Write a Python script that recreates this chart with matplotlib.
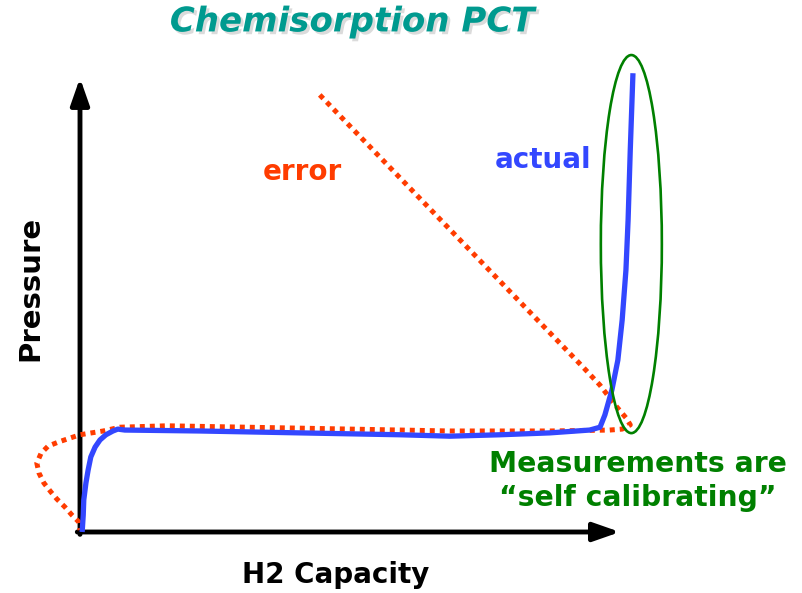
import matplotlib.pyplot as plt
import matplotlib.patheffects as pe
from matplotlib.patches import Ellipse

# schematic PCT curves, capacity (x) and pressure (y) in arbitrary units 0-100
actual_x = [0.4, 0.6, 0.7, 1.1, 1.5, 2.0, 2.8, 3.7, 4.8, 6.1, 7.0, 8.3, 22.2, 40.7,
            59.3, 68.5, 77.8, 87.0, 94.4, 96.3, 97.2, 98.5, 99.6, 100.4, 101.1,
            101.5, 101.9, 102.4]
actual_y = [0.0, 3.6, 6.8, 10.4, 13.1, 15.9, 18.0, 19.5, 20.6, 21.4, 21.8, 21.6,
            21.4, 21.0, 20.6, 20.3, 20.6, 21.0, 21.6, 22.2, 24.8, 30.1, 36.4,
            44.9, 55.5, 66.1, 80.9, 97.2]

error_x = [44.4, 93.1, 96.3, 99.1, 101.1, 101.9, 100.4, 98.1, 87.0, 68.5, 40.7, 16.1,
           7.4, 4.3, 0.0, -1.85, -3.9, -5.9, -7.2, -8.0, -7.6, -6.7, -5.4, -4.3,
           -2.8, -1.5, -0.2, 0.0]
error_y = [92.6, 35.0, 31.1, 26.9, 24.2, 22.7, 21.8, 21.6, 21.4, 21.4, 22.0, 22.5,
           22.2, 21.4, 20.6, 19.9, 19.1, 18.2, 16.7, 14.6, 12.5, 10.4, 8.5, 7.0,
           5.3, 3.6, 2.1, 0.4]

# highlighted region (steep rise)
ring_center = (102.1, 61.0)
ring_size = (11.3, 80.1)

fig = plt.figure(figsize=(8.02, 5.93), dpi=100)
ax = fig.add_axes([80 / 802, 61 / 593, 540 / 802, 472 / 593])
ax.set_xlim(0, 100)
ax.set_ylim(0, 100)
ax.axis("off")

# axes with arrowheads
arrow = dict(arrowstyle="-|>,head_length=0.8,head_width=0.28", lw=3.5,
             color="black", mutation_scale=20, shrinkA=0, shrinkB=0)
ax.annotate("", xy=(0, 96.2), xytext=(0, -0.5), arrowprops=arrow, annotation_clip=False)
ax.annotate("", xy=(100, 0), xytext=(-0.5, 0), arrowprops=arrow, annotation_clip=False)

ax.plot(error_x, error_y, color="#ff3c00", lw=3.6, linestyle=(0, (1, 1)),
        dash_capstyle="butt", clip_on=False, zorder=3)
ax.plot(actual_x, actual_y, color="#3347ff", lw=3.8, solid_capstyle="butt",
        solid_joinstyle="round", clip_on=False, zorder=4)

ax.add_patch(Ellipse(ring_center, ring_size[0], ring_size[1], fill=False,
                     edgecolor="#008000", lw=1.9, clip_on=False, zorder=5))

ax.text(41.1, 76.3, "error", color="#ff3c00", fontsize=20, fontweight="bold",
        ha="center", va="center")
ax.text(85.7, 78.8, "actual", color="#3347ff", fontsize=20, fontweight="bold",
        ha="center", va="center")
ax.text(103.3, 10.8, "Measurements are\n\u201cself calibrating\u201d", color="#008000",
        fontsize=20.3, fontweight="bold", ha="center", va="center", linespacing=1.25)

fig.text(0.0374, 0.514, "Pressure", rotation=90, fontsize=21, fontweight="bold",
         ha="center", va="center")
fig.text(0.418, 0.030, "H2 Capacity", fontsize=20, fontweight="bold",
         ha="center", va="center")
fig.text(0.439, 0.963, "Chemisorption PCT", color="#009a8f", fontsize=24.5,
         fontweight="heavy", fontstyle="italic", ha="center", va="center",
         path_effects=[pe.withSimplePatchShadow(offset=(2, -2), shadow_rgbFace="#999999",
                                                alpha=0.35)])

fig.savefig("out.png", dpi=100)
